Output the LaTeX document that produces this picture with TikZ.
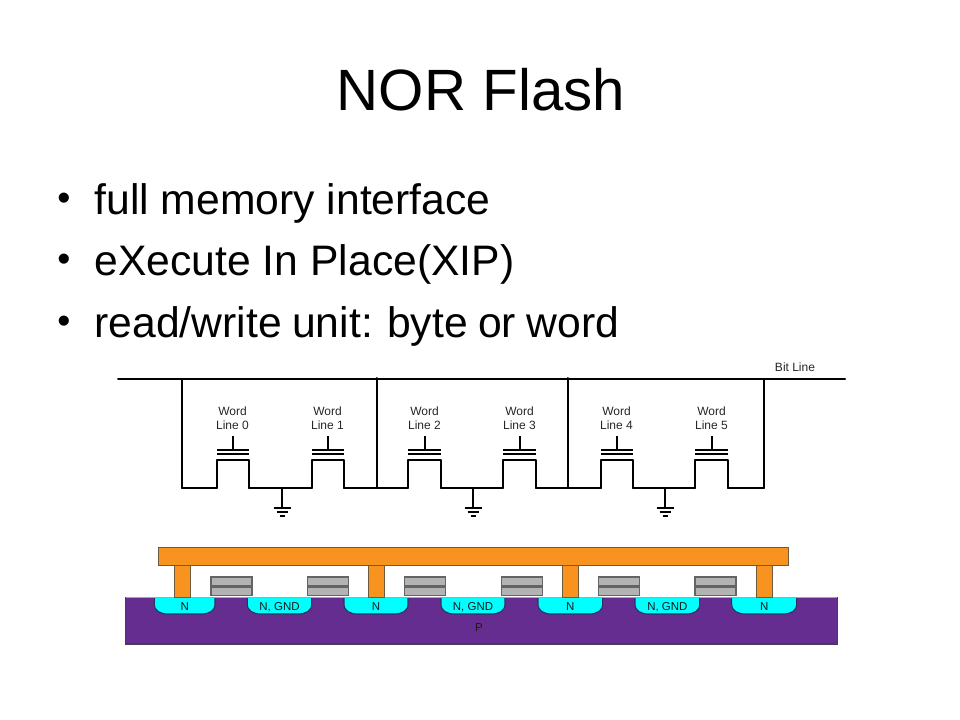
\documentclass[tikz,border=0pt]{standalone}
\usepackage{fontspec}
\setmainfont{Liberation Sans}
\definecolor{metalfill}{RGB}{247,147,30}
\definecolor{metaledge}{RGB}{110,90,60}
\definecolor{subfill}{RGB}{102,45,145}
\definecolor{subedge}{RGB}{70,60,90}
\definecolor{wellfillc}{RGB}{0,255,255}
\definecolor{welledgec}{RGB}{40,50,90}
\definecolor{platefill}{RGB}{179,179,179}
\definecolor{plateedge}{RGB}{100,100,100}
\tikzset{
  wire/.style={line width=1.5pt,black,line cap=round,line join=round},
  titletext/.style={anchor=base,inner sep=0pt,font=\fontsize{43.7}{50}\selectfont},
  bullettext/.style={anchor=base west,inner sep=0pt,font=\fontsize{32}{38}\selectfont},
  bulletmark/.style={anchor=base,inner sep=0pt,font=\fontsize{28}{32}\selectfont},
  smalltext/.style={inner sep=0pt,anchor=base,text=black!85,font=\fontsize{9}{10.5}\selectfont},
  welltext/.style={inner sep=0pt,anchor=base,text=black!90,font=\fontsize{8.6}{10}\selectfont},
  metal/.style={fill=metalfill,draw=metaledge,line width=0.7pt},
  substrate/.style={fill=subfill,draw=subedge,line width=0.8pt},
  wellfillstyle/.style={fill=wellfillc},
  welledge/.style={draw=welledgec,line width=0.8pt},
  plate/.style={fill=platefill,draw=plateedge,line width=1.1pt},
}
\begin{document}
\begin{tikzpicture}[x=0.75pt,y=-0.75pt]
\useasboundingbox (0,0) rectangle (960,720);
% heading and bullets
\node[titletext] (title) at (481,111) {NOR Flash};
\node[bulletmark] (m1) at (64,210.5) {•};
\node[bulletmark] (m2) at (64,271.5) {•};
\node[bulletmark] (m3) at (64,333.5) {•};
\node[bullettext] (b1) at (94.3,214.5) {full memory interface};
\node[bullettext] (b2) at (94.3,275.5) {eXecute In Place(XIP)};
\node[bullettext] (b3) at (94.3,337.5) {\spaceskip=7.8pt plus 0pt minus 0pt read/write unit: byte or word};
% bit line
\coordinate (blL) at (118,379);
\coordinate (blR) at (845,379);
\draw[wire] (blL) -- (blR);
\node[smalltext] (bitlabel) at (795,371) {Bit Line};
% bottom wire
\foreach \a/\b in {182/217, 249/312, 344/408, 441/503, 536/601, 633/695, 728/764}
  \draw[wire] (\a,488) -- (\b,488);
\draw[wire] (182,379) -- (182,488);
\draw[wire] (377,378) -- (377,488);
\draw[wire] (568,378) -- (568,488);
\draw[wire] (764,380) -- (764,488);
% transistors
\foreach \l/\r/\m/\n in {217/249/233/0, 312/344/328/1, 408/441/425/2, 503/536/520/3, 601/633/617/4, 695/728/712/5}{
  \draw[wire] (\l,488) -- (\l,460) -- (\r,460) -- (\r,488);
  \draw[line width=1.5pt] (\l,450) -- (\r,450);
  \draw[line width=1.5pt] (\l,454) -- (\r,454);
  \draw[line width=1.5pt] (\m,436) -- (\m,450);
  \node[smalltext] (wa\n) at (\m-.5,415) {Word};
  \node[smalltext] (wb\n) at (\m-.5,429) {Line \n};
}
% grounds
\foreach \x in {282,473,665}{
  \draw[line width=1.5pt] (\x,488) -- (\x,508);
  \draw[line width=1.5pt] (\x-8.5,508) -- (\x+8.5,508);
  \draw[line width=1.5pt] (\x-5.5,512) -- (\x+5.5,512);
  \draw[line width=1.5pt] (\x-2.5,516) -- (\x+2.5,516);
}
% cross-section
\fill[substrate] (125.7,597.5) rectangle (837.3,644);
\foreach \a/\b/\t/\k in {154.3/215/N/0, 247.3/311.7/{N, GND}/1, 344/408/N/2, 441/505/{N, GND}/3, 538/602.7/N/4, 635/699.7/{N, GND}/5, 731.7/796.7/N/6}{
  \fill[wellfillstyle] (\a,597.5) -- (\a,604) .. controls (\a,611) and (\a+6,614) .. (\a+14,614) -- (\b-14,614) .. controls (\b-6,614) and (\b,611) .. (\b,604) -- (\b,597.5) -- cycle;
  \draw[welledge] (\a,597.5) -- (\a,604) .. controls (\a,611) and (\a+6,614) .. (\a+14,614) -- (\b-14,614) .. controls (\b-6,614) and (\b,611) .. (\b,604) -- (\b,597.5);
  \pgfmathsetmacro{\m}{(\a+\b)/2}
  \node[welltext] (well\k) at (\m,610) {\t};
}
\draw[line width=0.5pt,black!35] (125.7,597.5) -- (837.3,597.5);
\node[welltext] (plabel) at (479,631.5) {P};
\foreach \x in {211,307.7,404.3,501.3,598.3,695}{
  \draw[plate] (\x,577) rectangle (\x+41,585.5);
  \draw[plate] (\x,587.2) rectangle (\x+41,595.7);
}
\foreach \x in {174.3,368.5,562.3,756}
  \draw[metal] (\x,565) rectangle (\x+16.3,597.5);
\draw[metal] (158.3,547) rectangle (788,565);
\end{tikzpicture}
\end{document}
